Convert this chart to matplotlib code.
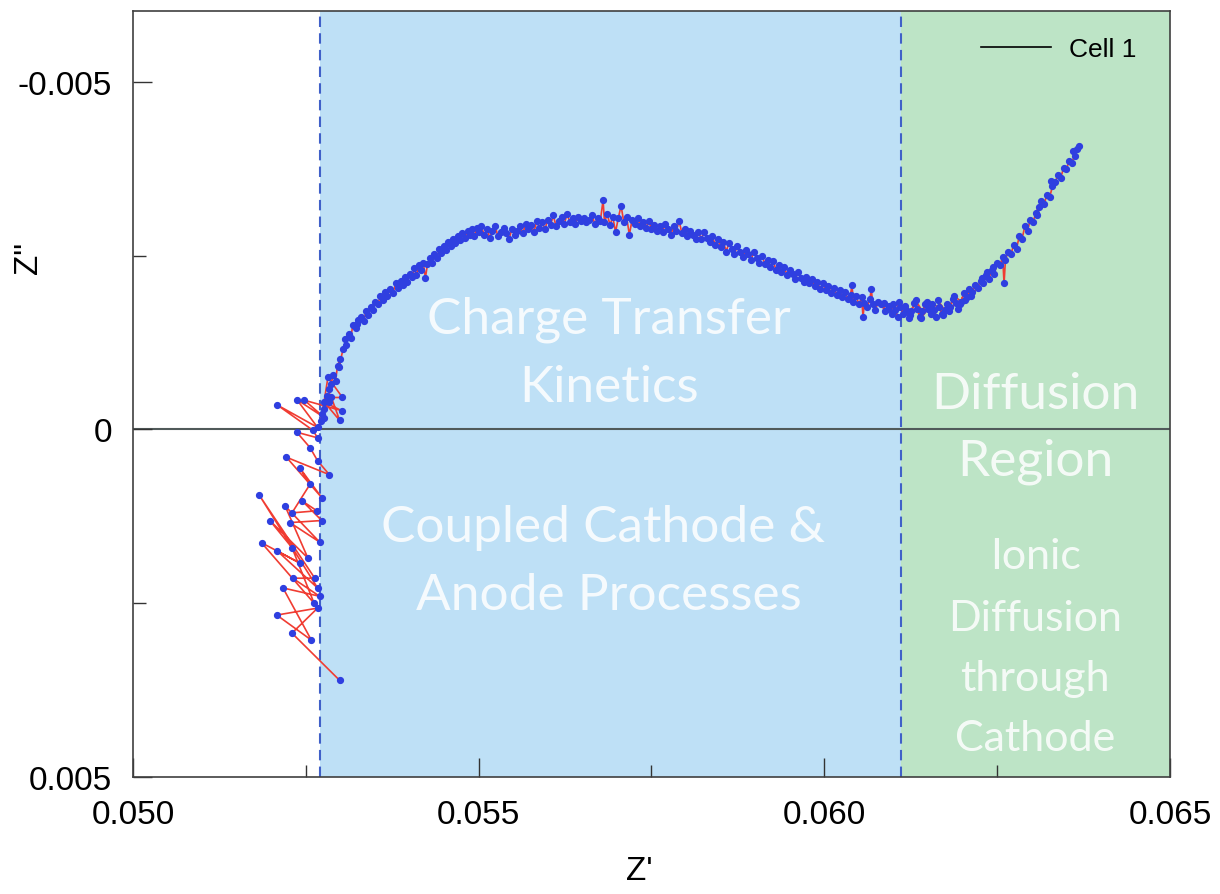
import matplotlib
matplotlib.use('Agg')
import matplotlib.pyplot as plt
from matplotlib.lines import Line2D
import numpy as np

plt.rcParams['font.family'] = ['Liberation Sans', 'DejaVu Sans']

# impedance readings, in milliohm
tail_re = [52.99, 52.30, 52.67, 52.08, 52.58, 52.17, 52.70, 52.31, 52.63, 51.83,
           52.67, 52.09, 52.41, 51.86, 52.62, 52.30, 51.98, 52.53, 52.20, 52.70,
           52.27, 52.73, 52.45, 52.66, 52.30, 52.56, 52.41, 52.73, 52.22, 52.84,
           52.67, 52.56, 52.37, 52.67, 52.60, 52.09, 52.67, 52.37, 52.77, 52.48,
           53.02, 52.77, 52.99, 52.87, 53.03, 52.82]
tail_im = [3.61, 2.93, 2.57, 2.67, 3.03, 2.28, 2.40, 2.14, 2.14, 0.95,
           2.28, 1.75, 1.92, 1.63, 2.50, 1.70, 1.31, 1.85, 1.10, 1.62,
           1.34, 1.31, 1.03, 1.17, 1.20, 0.79, 0.55, 0.98, 0.40, 0.65,
           0.45, 0.26, 0.04, 0.12, 0.01, -0.35, -0.03, -0.43, -0.17, -0.42,
           -0.27, -0.39, -0.13, -0.46, -0.46, -0.75]

arc_re = [52.72, 52.76, 52.74, 52.80, 52.83, 52.86, 52.84, 52.90, 52.93, 52.96,
          53.00, 52.98, 53.04, 53.08, 53.06, 53.12, 53.15, 53.18, 53.22, 53.26,
          53.24, 53.30, 53.34, 53.37, 53.40, 53.44, 53.47, 53.50, 53.54, 53.58,
          53.62, 53.65, 53.68, 53.72, 53.76, 53.80, 53.84, 53.87, 53.90, 53.94,
          53.97, 54.00, 54.04, 54.07, 54.10, 54.14, 54.17, 54.20, 54.23, 54.26,
          54.30, 54.33, 54.36, 54.40, 54.43, 54.46, 54.50, 54.53, 54.56, 54.60,
          54.63, 54.66, 54.70, 54.73, 54.76, 54.80, 54.84, 54.87, 54.90, 54.94,
          54.97, 55.00, 55.04, 55.08, 55.12, 55.16, 55.20, 55.24, 55.28, 55.32,
          55.36, 55.40, 55.44, 55.48, 55.52, 55.56, 55.60, 55.64, 55.68, 55.72,
          55.76, 55.80, 55.84, 55.88, 55.92, 55.96, 56.00, 56.04, 56.08, 56.12,
          56.16, 56.20, 56.24, 56.28, 56.32, 56.36, 56.40, 56.44, 56.48, 56.52,
          56.56, 56.60, 56.64, 56.68, 56.72, 56.76, 56.80, 56.82, 56.86, 56.90,
          56.94, 56.98, 57.02, 57.06, 57.10, 57.14, 57.18, 57.22, 57.26, 57.30,
          57.34, 57.38, 57.42, 57.46, 57.50, 57.54, 57.58, 57.62, 57.66, 57.70,
          57.74, 57.78, 57.82, 57.86, 57.90, 57.94, 57.98, 58.02, 58.06, 58.10,
          58.14, 58.18, 58.22, 58.26, 58.30, 58.34, 58.38, 58.42, 58.46, 58.50,
          58.54, 58.58, 58.62, 58.66, 58.70, 58.74, 58.78, 58.82, 58.86, 58.90,
          58.94, 58.98, 59.02, 59.06, 59.10, 59.14, 59.18, 59.22, 59.26, 59.30,
          59.34, 59.38, 59.42, 59.46, 59.50, 59.54, 59.58, 59.62, 59.66, 59.70,
          59.74, 59.78, 59.82, 59.86, 59.90, 59.94, 59.98, 60.02, 60.06, 60.10,
          60.14, 60.18, 60.22, 60.26, 60.30, 60.34, 60.38, 60.40, 60.42, 60.46,
          60.50, 60.54, 60.56, 60.58, 60.62, 60.66, 60.68, 60.70, 60.74, 60.78]
arc_im = [-0.12, -0.30, -0.22, -0.48, -0.40, -0.66, -0.58, -0.78, -0.70, -0.92,
          -1.02, -0.90, -1.16, -1.22, -1.30, -1.38, -1.32, -1.50, -1.46, -1.58,
          -1.52, -1.62, -1.56, -1.70, -1.64, -1.76, -1.72, -1.84, -1.80, -1.92,
          -1.86, -1.98, -1.92, -2.02, -1.96, -2.10, -2.04, -2.14, -2.08, -2.20,
          -2.12, -2.24, -2.20, -2.32, -2.22, -2.36, -2.30, -2.40, -2.18, -2.38,
          -2.46, -2.40, -2.52, -2.47, -2.60, -2.54, -2.64, -2.58, -2.70, -2.64,
          -2.74, -2.68, -2.78, -2.72, -2.82, -2.76, -2.86, -2.80, -2.88, -2.78,
          -2.90, -2.84, -2.92, -2.80, -2.88, -2.76, -2.86, -2.92, -2.78, -2.84,
          -2.90, -2.82, -2.74, -2.88, -2.80, -2.86, -2.92, -2.82, -2.96, -2.88,
          -2.94, -2.84, -3.00, -2.90, -2.98, -2.88, -3.02, -2.94, -3.08, -2.92,
          -3.00, -3.06, -2.96, -3.10, -2.98, -3.04, -2.96, -3.06, -3.00, -3.04,
          -2.98, -3.02, -3.08, -2.96, -3.04, -3.00, -3.30, -2.98, -3.10, -2.94,
          -3.06, -2.84, -3.04, -3.22, -2.98, -3.06, -2.80, -3.02, -2.96, -3.04,
          -2.92, -2.98, -2.90, -3.00, -2.88, -2.94, -2.86, -2.92, -2.84, -2.96,
          -2.88, -2.80, -2.92, -2.86, -3.00, -2.82, -2.88, -2.78, -2.86, -2.80,
          -2.74, -2.84, -2.74, -2.84, -2.76, -2.70, -2.78, -2.66, -2.74, -2.62,
          -2.70, -2.56, -2.68, -2.60, -2.52, -2.64, -2.56, -2.48, -2.58, -2.52,
          -2.44, -2.56, -2.46, -2.40, -2.50, -2.38, -2.44, -2.34, -2.42, -2.30,
          -2.36, -2.26, -2.34, -2.22, -2.30, -2.24, -2.16, -2.26, -2.18, -2.12,
          -2.20, -2.10, -2.16, -2.06, -2.12, -2.02, -2.10, -2.00, -2.06, -1.96,
          -2.04, -1.94, -2.00, -1.90, -1.98, -1.88, -1.94, -2.08, -1.84, -1.92,
          -1.80, -1.90, -1.62, -1.82, -1.76, -1.88, -2.02, -1.80, -1.72, -1.84]

diff_re = [60.82, 60.88, 60.86, 60.92, 60.98, 60.94, 61.02, 61.06, 61.00, 61.10,
           61.14, 61.08, 61.18, 61.22, 61.16, 61.26, 61.30, 61.24, 61.34, 61.38,
           61.32, 61.42, 61.46, 61.40, 61.50, 61.54, 61.48, 61.58, 61.62, 61.56,
           61.66, 61.70, 61.64, 61.74, 61.78, 61.72, 61.82, 61.86, 61.80, 61.90,
           61.94, 61.88, 61.98, 62.02, 61.96, 62.06, 62.10, 62.04, 62.14, 62.18,
           62.12, 62.22, 62.26, 62.30, 62.34, 62.28, 62.38, 62.42, 62.36, 62.46,
           62.50, 62.44, 62.54, 62.58, 62.60, 62.62, 62.66, 62.70, 62.74, 62.78,
           62.82, 62.86, 62.90, 62.94, 62.98, 63.02, 63.06, 63.10, 63.08, 63.14,
           63.18, 63.22, 63.26, 63.30, 63.28, 63.34, 63.38, 63.42, 63.46, 63.50,
           63.54, 63.58, 63.62, 63.60, 63.66, 63.68]
diff_im = [-1.80, -1.70, -1.82, -1.74, -1.66, -1.78, -1.72, -1.62, -1.80, -1.76,
           -1.66, -1.84, -1.72, -1.60, -1.78, -1.70, -1.82, -1.64, -1.74, -1.62,
           -1.86, -1.70, -1.80, -1.60, -1.74, -1.66, -1.84, -1.72, -1.62, -1.80,
           -1.76, -1.66, -1.86, -1.72, -1.80, -1.64, -1.76, -1.88, -1.70, -1.82,
           -1.74, -1.92, -1.84, -1.96, -1.80, -1.90, -2.02, -1.86, -1.98, -2.08,
           -1.92, -2.04, -2.14, -2.10, -2.22, -2.18, -2.16, -2.30, -2.26, -2.24,
           -2.40, -2.34, -2.36, -2.48, -2.10, -2.44, -2.56, -2.52, -2.66, -2.60,
           -2.78, -2.74, -2.92, -2.86, -3.02, -2.98, -3.12, -3.20, -3.08, -3.28,
           -3.24, -3.38, -3.34, -3.50, -3.58, -3.56, -3.66, -3.62, -3.76, -3.74,
           -3.86, -3.84, -3.94, -4.00, -4.04, -4.08]

region_edges = [52.70, 61.116, 65.0]   # milliohm
region_colors = ['#bee0f6', '#bde4c6']

x_ticks = [0.050, 0.055, 0.060, 0.065]
y_ticks = [-0.005, 0.0, 0.005]
y_tick_labels = ['-0.005', '0', '0.005']

z_re = np.concatenate([tail_re, arc_re, diff_re]) / 1000.0
z_im = np.concatenate([tail_im, arc_im, diff_im]) / 1000.0
edges = np.array(region_edges) / 1000.0

fig = plt.figure(figsize=(12.2, 8.95), dpi=100)
ax = fig.add_axes([0.109, 0.1307, 0.850, 0.8559])

for i in range(2):
    ax.axvspan(edges[i], edges[i + 1], color=region_colors[i], lw=0, zorder=0)
for e in edges[:2]:
    ax.axvline(e, color='#4060c8', lw=1.5, ls=(0, (5, 3)), zorder=1)
ax.axhline(0, color='#505a5a', lw=1.5, zorder=1)

ax.plot(z_re, z_im, '-', color='#f03c32', lw=1.2, marker='o', ms=4.2,
        mfc='#2f3fe0', mec='#2f3fe0', zorder=3)

# region annotations
txt = dict(color='white', alpha=0.85, ha='center', va='center',
           family=['Lato', 'DejaVu Sans'], zorder=2)
ax.text(0.05689, -0.00159, 'Charge Transfer', fontsize=37, **txt)
ax.text(0.05689, -0.00061, 'Kinetics', fontsize=37, **txt)
ax.text(0.05680, 0.00141, 'Coupled Cathode &', fontsize=37, **txt)
ax.text(0.05689, 0.00238, 'Anode Processes', fontsize=37, **txt)
ax.text(0.06305, -0.00051, 'Diffusion', fontsize=37, **txt)
ax.text(0.06305, 0.00045, 'Region', fontsize=37, **txt)
ax.text(0.06305, 0.00182, 'Ionic', fontsize=31, **txt)
ax.text(0.06305, 0.00271, 'Diffusion', fontsize=31, **txt)
ax.text(0.06305, 0.00358, 'through', fontsize=31, **txt)
ax.text(0.06305, 0.00444, 'Cathode', fontsize=31, **txt)

ax.set_xlim(0.050, 0.065)
ax.set_ylim(0.005, -0.00602)

ax.set_xticks(x_ticks)
ax.set_xticklabels(['%.3f' % v for v in x_ticks])
ax.set_xticks([0.0525, 0.0575, 0.0625], minor=True)
ax.set_yticks(y_ticks)
ax.set_yticklabels(y_tick_labels)
ax.set_yticks([-0.0025, 0.0025], minor=True)
ax.tick_params(which='both', direction='in', labelsize=24, color='#333333')
ax.tick_params(which='major', length=14, width=1.0)
ax.tick_params(which='minor', length=9, width=1.0)
ax.tick_params(axis='y', pad=15)
ax.tick_params(axis='x', pad=16)

for s in ax.spines.values():
    s.set_color('#404040')
    s.set_linewidth(1.2)

ax.set_xlabel("Z'", fontsize=24)
ax.set_ylabel('Z"', fontsize=24)
ax.xaxis.set_label_coords(0.488, -0.102)
ax.yaxis.set_label_coords(-0.086, 0.679)

handle = Line2D([], [], color='black', lw=1.2)
ax.legend([handle], ['Cell 1'], loc='upper right', bbox_to_anchor=(0.978, 0.98),
          borderaxespad=0, frameon=False, fontsize=19, handlelength=2.65,
          handletextpad=0.68)

fig.savefig('out.png', dpi=100)
